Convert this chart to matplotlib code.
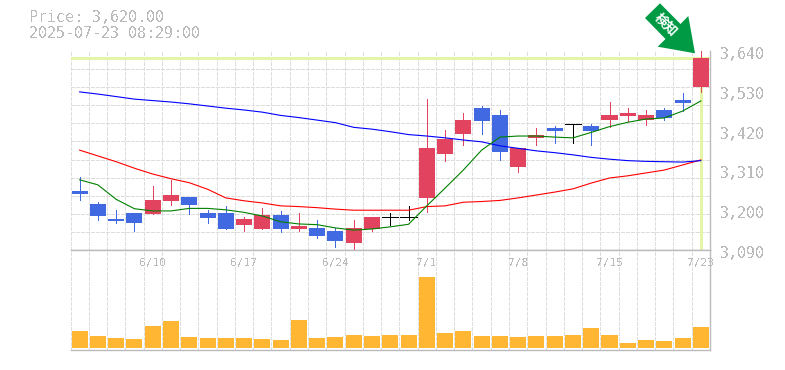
import matplotlib
matplotlib.use("Agg")
import matplotlib.pyplot as plt
from matplotlib.patches import Polygon
from matplotlib.transforms import ScaledTranslation
import numpy as np

plt.rcParams["font.family"] = ["DejaVu Sans Mono"]
plt.rcParams["text.antialiased"] = False

# one row per trading day, 6/4 .. 7/23
opens = [3253, 3217, 3176, 3192, 3190, 3225, 3236, 3192, 3192, 3159, 3148, 3187, 3148, 3151, 3142, 3109, 3148, 3181,
         3181, 3234, 3355, 3411, 3482, 3463, 3319, 3400, 3427, 3438, 3433, 3449, 3460, 3449, 3477, 3504, 3540]
closes = [3245, 3184, 3170, 3165, 3228, 3242, 3214, 3178, 3148, 3176, 3187, 3148, 3156, 3129, 3115, 3151, 3181, 3181,
          3181, 3372, 3397, 3449, 3446, 3361, 3372, 3408, 3419, 3438, 3419, 3463, 3469, 3463, 3455, 3496, 3620]
highs = [3292, 3223, 3201, 3192, 3267, 3283, 3236, 3201, 3212, 3181, 3206, 3198, 3192, 3173, 3151, 3173, 3181, 3192,
         3212, 3507, 3422, 3469, 3488, 3477, 3372, 3427, 3433, 3438, 3438, 3499, 3482, 3477, 3482, 3524, 3640]
lows = [3228, 3173, 3165, 3142, 3190, 3214, 3190, 3165, 3148, 3142, 3148, 3140, 3142, 3123, 3098, 3090, 3142, 3159,
        3173, 3195, 3336, 3380, 3411, 3339, 3306, 3380, 3386, 3386, 3380, 3430, 3446, 3435, 3449, 3474, 3527]

ma_short = [3284, 3270, 3230, 3204, 3198, 3198, 3205, 3205, 3201, 3194, 3184, 3168, 3162, 3160, 3151, 3145, 3148, 3154,
            3161, 3212, 3261, 3311, 3366, 3402, 3405, 3405, 3402, 3400, 3415, 3431, 3443, 3452, 3455, 3474, 3502]
ma_mid = [3366, 3350, 3334, 3316, 3300, 3287, 3276, 3258, 3234, 3226, 3220, 3212, 3210, 3207, 3203, 3200, 3200, 3200,
          3200, 3210, 3212, 3222, 3224, 3227, 3234, 3242, 3250, 3259, 3275, 3289, 3295, 3303, 3311, 3325, 3339]
ma_long = [3527, 3521, 3514, 3507, 3503, 3499, 3494, 3488, 3482, 3477, 3471, 3462, 3456, 3449, 3442, 3429, 3424, 3417,
           3409, 3405, 3400, 3394, 3389, 3378, 3371, 3364, 3359, 3353, 3346, 3341, 3337, 3335, 3334, 3333, 3337]

volumes = [17, 12, 10, 9, 22, 27, 11, 10, 10, 10, 9, 8, 28, 10, 11, 13, 12, 13,
           13, 71, 15, 17, 12, 12, 11, 12, 12, 13, 20, 13, 5, 8, 7, 10, 21]

date_labels = ["6/10", "6/17", "6/24", "7/1", "7/8", "7/15", "7/23"]
date_index = [4, 9, 14, 19, 24, 29, 34]
price_ticks = [3090, 3200, 3310, 3420, 3530, 3640]
last_price = 3620

RED = "#e2435f"
BLUE = "#4169e1"
GRAY = "#bbbbbb"
GRID = "#dddddd"
HILITE = "#e4f5a8"
W, H = 785, 370
PX = 0.72  # one pixel in points
THIN = 0.5  # aliased straight lines come out one pixel wide at this width


def px_axes(left, top, right, bottom):
    """Axes rectangle given in image pixels (y from the top)."""
    return [left / W, 1 - bottom / H, (right - left) / W, (bottom - top) / H]


fig = plt.figure(figsize=(W / 100, H / 100), dpi=100)
ax = fig.add_axes(px_axes(70.5, 51, 710, 250))
vax = fig.add_axes(px_axes(70.5, 250, 710, 350))

x = np.arange(len(opens))
edges = np.arange(len(opens) + 1) - 0.5

for a in (ax, vax):
    a.set_xlim(edges[0], edges[-1])
    a.set_xticks(edges)
    a.tick_params(axis="x", length=0, labelbottom=False)
    a.grid(True, axis="x", color=GRID, linestyle=(0, (3, 2)), linewidth=PX, antialiased=False)
    a.set_axisbelow(True)
    a.spines["left"].set_visible(False)
    a.spines["top"].set_visible(False)
    for s in ("right", "bottom"):
        a.spines[s].set_color(GRAY)
        a.spines[s].set_linewidth(1.0)

# price panel
ax.set_ylim(3090, 3640)
ax.yaxis.tick_right()
ax.set_yticks(price_ticks)
ax.set_yticks(np.arange(3090, 3641, 50), minor=True)
ax.tick_params(axis="y", which="both", length=0, pad=7, labelsize=10.8, labelcolor=GRAY)
ax.set_yticklabels(["{:,}".format(p) for p in price_ticks])
ax.grid(True, axis="y", which="minor", color=GRID, linestyle=(0, (3, 2)), linewidth=PX, antialiased=False)
shift = ScaledTranslation(0, -2 / 100, fig.dpi_scale_trans)
for lbl in ax.get_yticklabels():
    lbl.set_transform(lbl.get_transform() + shift)

ax.axhline(last_price, color=HILITE, linewidth=2.2, zorder=1.5)
ax.plot([x[-1], x[-1]], [3090, last_price], color=HILITE, linewidth=2.2, zorder=1.5)

for i in x:
    o, c = opens[i], closes[i]
    color = "black" if o == c else (RED if c > o else BLUE)
    ax.plot([i, i], [lows[i], highs[i]], color=color, linewidth=THIN, zorder=3, clip_on=False,
            solid_capstyle="butt", antialiased=False)
    if o == c:
        ax.plot([i - 0.44, i + 0.44], [o, o], color=color, linewidth=THIN, zorder=3,
                solid_capstyle="butt", antialiased=False)
    else:
        ax.bar(i, abs(c - o), bottom=min(o, c), width=0.877, color=color, zorder=3)

ax.plot(x, ma_mid, color="red", linewidth=0.8, zorder=4)
ax.plot(x, ma_long, color="blue", linewidth=0.8, zorder=4)
ax.plot(x, ma_short, color="green", linewidth=0.8, zorder=4)

# volume panel
vax.set_ylim(-2.3, 97.7)
vax.set_yticks([])
vax.bar(x, volumes, width=0.877, color="#ffb733", zorder=3)
for i, lab in zip(date_index, date_labels):
    vax.text(i, 85, lab, ha="center", va="center", fontsize=8, color=GRAY, zorder=4)
vax.spines["top"].set_visible(True)
vax.spines["top"].set_color(GRAY)
vax.spines["top"].set_linewidth(1.0)

# header
fig.text(29 / W, 1 - 18 / H, "Price: {:,.2f}".format(last_price), fontsize=10.8, color=GRAY, va="center")
fig.text(29 / W, 1 - 33 / H, "2025-07-23 08:29:00", fontsize=10.8, color=GRAY, va="center")

# green marker arrow
arrow_px = [(645, 18), (660, 3.3), (680.5, 24), (688.3, 16), (695, 53.3), (657.7, 46.7), (665.5, 39)]
fig.add_artist(Polygon([(px / W, 1 - py / H) for px, py in arrow_px], closed=True, transform=fig.transFigure,
                       facecolor="#009944", edgecolor="none", zorder=10))
fig.text(666 / W, 1 - 25 / H, "検知", rotation=-45, rotation_mode="anchor", fontsize=9.5, fontweight="bold",
         color="white", ha="center", va="center", family=["Noto Sans CJK JP", "DejaVu Sans"], zorder=11,
         antialiased=True)

fig.savefig("out.png", dpi=100)
